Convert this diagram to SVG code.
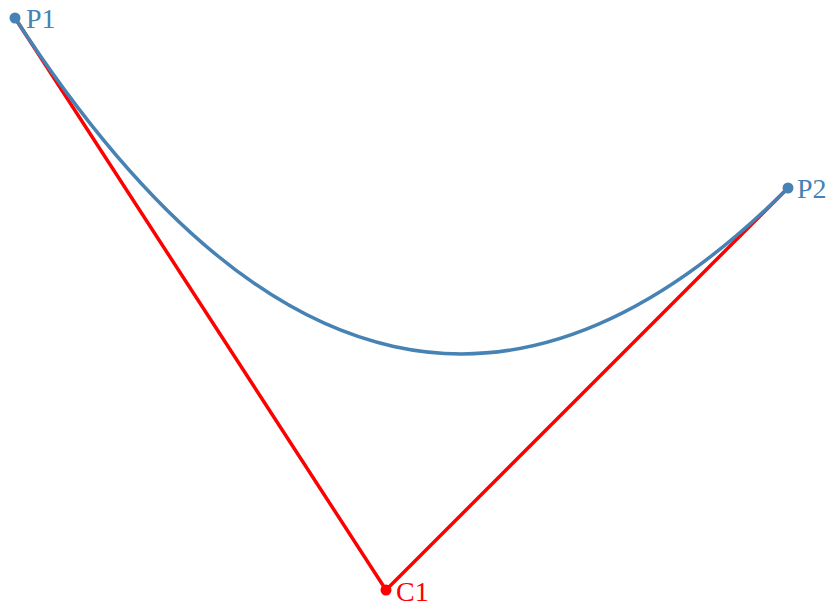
<svg xmlns="http://www.w3.org/2000/svg" width="837" height="613" viewBox="0 0 837 613">
<style>
.lbl{font-family:"Liberation Serif","Times New Roman",serif;font-size:28px}
.blue{fill:#4682B4}
.red{fill:#FF0000}
</style>
<rect width="837" height="613" fill="#ffffff"/>
<g id="connectors" fill="none">
<path id="control-lines" d="M15,18 L386,590 L788,188" stroke="#FF0000" stroke-width="3.5"/>
<path id="curve" d="M15,18 Q386,590 788,188" stroke="#4682B4" stroke-width="3.5"/>
</g>
<g id="P1">
<circle cx="15" cy="18" r="5.5" class="blue"/>
<text x="26" y="28" class="lbl blue">P1</text>
</g>
<g id="P2">
<circle cx="788" cy="188" r="5.5" class="blue"/>
<text x="797" y="198" class="lbl blue">P2</text>
</g>
<g id="C1">
<circle cx="386" cy="590" r="5.5" class="red"/>
<text x="396" y="601" class="lbl red">C1</text>
</g>
</svg>
